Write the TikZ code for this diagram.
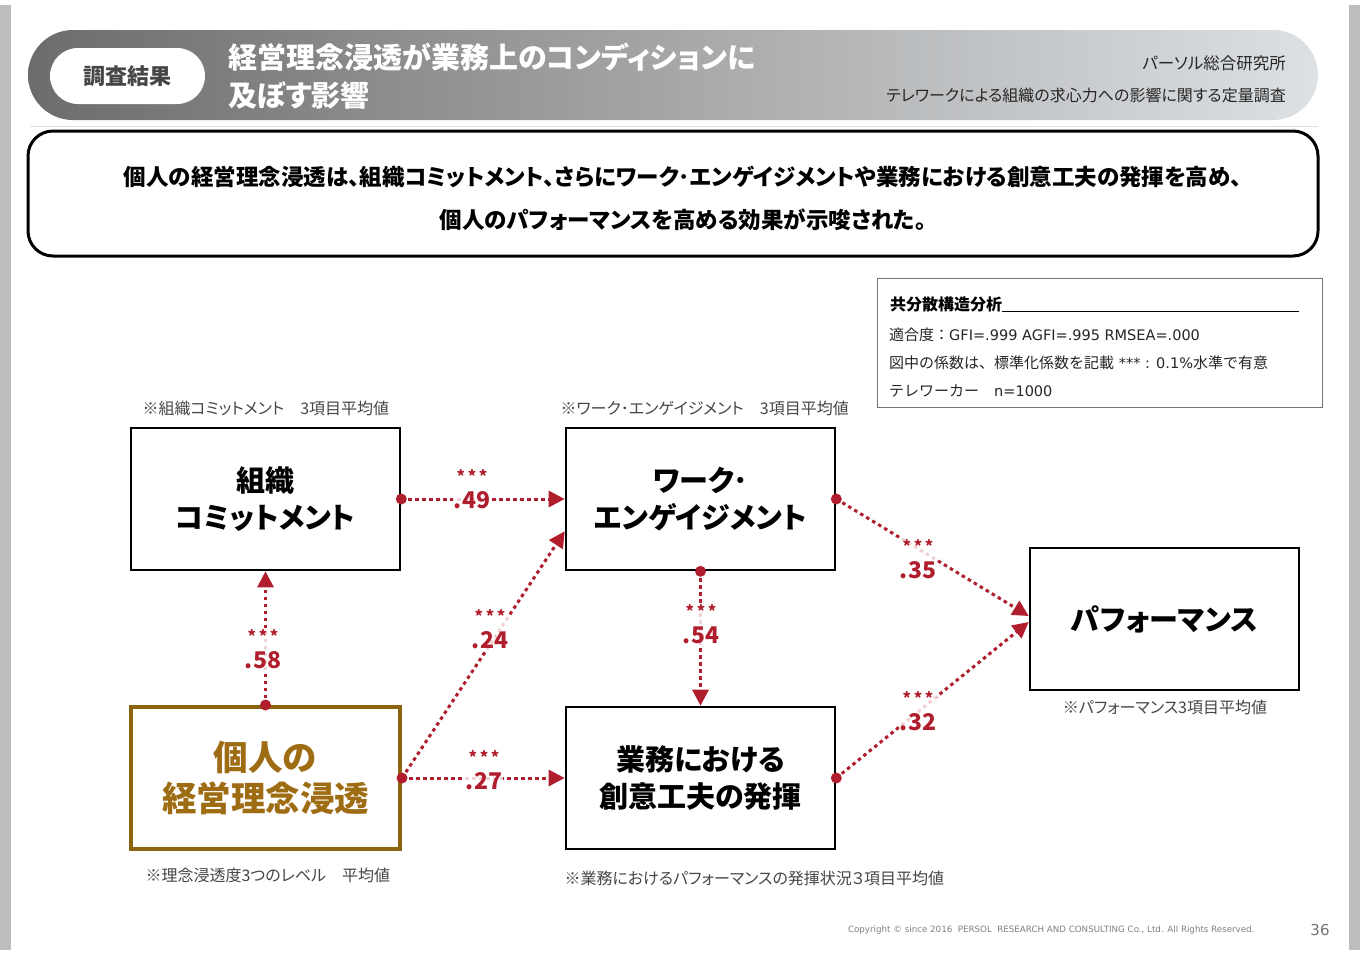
\documentclass[tikz,border=0pt]{standalone}
\usepackage{fontspec}
\setmainfont[RawFeature=+palt]{Noto Sans CJK JP}
\newfontfamily\jpfull{Noto Sans CJK JP}
\newfontfamily\dejavu{DejaVu Sans}
\usetikzlibrary{arrows.meta,calc}
\definecolor{arrred}{RGB}{176,30,45}
\definecolor{goldb}{RGB}{139,100,16}
\definecolor{goldt}{RGB}{158,108,18}
\definecolor{barg}{RGB}{190,190,190}
\definecolor{hdark}{RGB}{108,108,108}
\definecolor{hmid}{RGB}{160,164,168}
\definecolor{hlight}{RGB}{222,225,228}
\definecolor{txtg}{RGB}{70,70,70}
\tikzset{
  vbox/.style={draw=black, line width=2.6pt, minimum width=269pt, minimum height=142pt, align=center, font=\bfseries\fontsize{29}{37}\selectfont},
  goldbox/.style={draw=goldb, line width=4pt, minimum width=269pt, minimum height=142pt, align=center, text=goldt, font=\bfseries\fontsize{34.5}{41}\selectfont},
  note/.style={font=\fontsize{16}{16}\selectfont, text=txtg},
  path/.style={draw=arrred, line width=3pt, dash pattern=on 3.5pt off 3.5pt, -{Triangle[length=16pt,width=16pt]}},
  dotstart/.style={fill=arrred},
  coef/.style={text=arrred, fill=white, fill opacity=0.8, text opacity=1, inner sep=1pt, align=center, font=\bfseries\fontsize{23}{26}\selectfont},
  stat/.style={anchor=west, font=\jpfull\fontsize{15}{15}\selectfont, text=black!85, inner sep=0pt}
}
\newcommand{\mystars}{{\fontsize{16}{16}\selectfont *\,*\,*}}
\newcommand{\lat}[1]{{\dejavu\fontsize{14.5}{15}\selectfont #1}}
\begin{document}
\begin{tikzpicture}[x=1pt,y=-1pt]
\useasboundingbox (0,0) rectangle (1360,962);
\fill[white] (0,0) rectangle (1360,962);
% side bars
\fill[barg] (0,5) rectangle (11,950);
\fill[barg] (1349,5) rectangle (1360,950);
% header
\shade[left color=hdark, middle color=hmid, right color=hlight, rounded corners=45pt] (28,30) rectangle (1318,120);
\node[fill=white, rounded corners=28pt, minimum width=155pt, minimum height=56pt, text=txtg, font=\bfseries\fontsize{22}{22}\selectfont] (tag) at (127.5,76) {調査結果};
\node[anchor=west, align=left, text=white, inner sep=0pt, font=\bfseries\fontsize{29}{38}\selectfont] (title) at (228,76) {経営理念浸透が業務上のコンディションに\\及ぼす影響};
\node[anchor=east, inner sep=0pt, text=black!85, font=\fontsize{16.5}{16.5}\selectfont] (org) at (1286,63) {パーソル総合研究所};
\node[anchor=east, inner sep=0pt, text=black!85, font=\fontsize{16}{16}\selectfont] (survey) at (1286,95) {テレワークによる組織の求心力への影響に関する定量調査};
\draw[black!12, line width=1pt] (30,126) -- (1318,126);
% summary
\node[draw=black, line width=3pt, rounded corners=25pt, minimum width=1290pt, minimum height=125pt] (summary) at (673,193.5) {};
\node[align=center, font=\bfseries\fontsize{22.5}{43}\selectfont] (sumtext) at (683,198.5) {個人の経営理念浸透は、組織コミットメント、さらにワーク･エンゲイジメントや業務における創意工夫の発揮を高め、\\個人のパフォーマンスを高める効果が示唆された。};
% stats box
\node[draw=black!55, line width=1pt, minimum width=445pt, minimum height=129pt] (stats) at (1099.5,342.5) {};
\node[anchor=base west, inner sep=0pt, font=\jpfull\bfseries\fontsize{16}{16}\selectfont] (sttitle) at (890,310) {共分散構造分析};
\draw[line width=1pt] ([yshift=-1.5pt]sttitle.base east) -- (1299,311.5);
\node[stat] (s1) at (889,335) {適合度：\lat{GFI=.999 AGFI=.995 RMSEA=.000}};
\node[stat] (s2) at (889,363) {図中の係数は、標準化係数を記載\lat{ *** : 0.1\%}水準で有意};
\node[stat] (s3) at (889,391) {テレワーカー　\lat{n=1000}};
% boxes
\node[vbox] (kom) at (265.5,499) {組織\\コミットメント};
\node[vbox] (work) at (700.5,499) {ワーク･\\エンゲイジメント};
\node[vbox] (perf) at (1164.5,619) {パフォーマンス};
\node[goldbox] (rinen) at (265.5,778) {個人の\\経営理念浸透};
\node[vbox] (souii) at (700.5,778) {業務における\\創意工夫の発揮};
% notes
\node[note, anchor=west] (nkom) at (139,408) {※組織コミットメント　3項目平均値};
\node[note, anchor=west] (nwork) at (557,408) {※ワーク･エンゲイジメント　3項目平均値};
\node[note] (nperf) at (1165,707) {※パフォーマンス3項目平均値};
\node[note, anchor=west] (nrinen) at (142,875) {※理念浸透度3つのレベル　平均値};
\node[note, anchor=west] (nsouii) at (561,878) {※業務におけるパフォーマンスの発揮状況３項目平均値};
% paths
\path[path] (kom.east) -- (work.west);
\path[path] (rinen.north) -- (kom.south);
\path[path] (rinen.east) -- ([yshift=40pt]work.south west);
\path[path] (rinen.east) -- (souii.west);
\path[path] (work.south) -- (souii.north);
\path[path] (work.east) -- ([yshift=3pt]perf.west);
\path[path] (souii.east) -- ([yshift=-3pt]perf.west);
\fill[dotstart] (kom.east) circle (5.5pt);
\fill[dotstart] (rinen.north) circle (5.5pt);
\fill[dotstart] (rinen.east) circle (5.5pt);
\fill[dotstart] (work.south) circle (5.5pt);
\fill[dotstart] (work.east) circle (5.5pt);
\fill[dotstart] (souii.east) circle (5.5pt);
% coefficients
\node[coef] (c49) at (472,489) {\mystars\\.49};
\node[coef] (c58) at (263,649) {\mystars\\.58};
\node[coef] (c24) at (490,629) {\mystars\\.24};
\node[coef] (c27) at (484,770) {\mystars\\.27};
\node[coef] (c54) at (701,624) {\mystars\\.54};
\node[coef] (c35) at (918,559) {\mystars\\.35};
\node[coef] (c32) at (918,711) {\mystars\\.32};
% footer
\node[anchor=east, text=black!50, font=\dejavu\fontsize{8.7}{8.7}\selectfont] (copy) at (1258,930) {Copyright © since 2016\ \ PERSOL\ \ RESEARCH AND CONSULTING Co., Ltd. All Rights Reserved.};
\node[text=black!55, font=\dejavu\fontsize{15}{15}\selectfont] (page) at (1320,930) {36};
\end{tikzpicture}
\end{document}
